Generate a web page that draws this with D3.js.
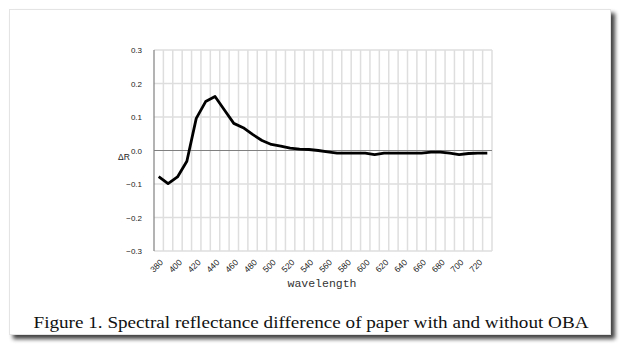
<!DOCTYPE html>
<html><head><meta charset="utf-8">
<script src="https://cdn.jsdelivr.net/npm/d3@7"></script>
<style>html,body{margin:0;padding:0;background:#fff;}svg{display:block;}</style>
</head><body>
<svg id="c" width="624" height="345"></svg>
<script>
const wavelengths = [380,390,400,410,420,430,440,450,460,470,480,490,500,510,520,530,540,550,560,570,580,590,600,610,620,630,640,650,660,670,680,690,700,710,720,730];
const deltaR = [-0.078,-0.099,-0.079,-0.032,0.096,0.146,0.161,0.121,0.081,0.068,0.048,0.030,0.018,0.013,0.007,0.004,0.003,0.000,-0.004,-0.008,-0.008,-0.008,-0.008,-0.012,-0.008,-0.008,-0.008,-0.008,-0.008,-0.005,-0.005,-0.008,-0.012,-0.009,-0.008,-0.008];
const yTicks = [-0.3,-0.2,-0.1,0.0,0.1,0.2,0.3];
const xLabels = [380,400,420,440,460,480,500,520,540,560,580,600,620,640,660,680,700,720];
const caption = "Figure 1. Spectral reflectance difference of paper with and without OBA";

const svg = d3.select("#c");
const defs = svg.append("defs");
const f = defs.append("filter").attr("id","sh").attr("x","-5%").attr("y","-5%").attr("width","115%").attr("height","115%");
f.append("feGaussianBlur").attr("in","SourceAlpha").attr("stdDeviation",2);
f.append("feOffset").attr("dx",4).attr("dy",4).attr("result","b");
f.append("feComponentTransfer").append("feFuncA").attr("type","linear").attr("slope",0.75);
const fm = f.append("feMerge"); fm.append("feMergeNode"); fm.append("feMergeNode").attr("in","SourceGraphic");

svg.append("rect").attr("x",9.5).attr("y",9.5).attr("width",601).attr("height",325)
  .attr("fill","#fff").attr("stroke","#e4e4e4").attr("stroke-width",1).attr("filter","url(#sh)");

const L = 154, R = 492, T = 50, B = 251;
const x = d3.scaleBand().domain(wavelengths).range([L,R]).padding(0);
const y = d3.scaleLinear().domain([-0.3,0.3]).range([B,T]);

const g = svg.append("g");
g.selectAll("line.vg").data(wavelengths).enter().append("line")
  .attr("x1",d=>x(d)+x.bandwidth()).attr("x2",d=>x(d)+x.bandwidth())
  .attr("y1",T).attr("y2",B).attr("stroke","#dedede").attr("stroke-width",1.5);
g.selectAll("line.hg").data(yTicks.filter(v=>v!==0)).enter().append("line")
  .attr("x1",L).attr("x2",R).attr("y1",d=>y(d)).attr("y2",d=>y(d))
  .attr("stroke","#dedede").attr("stroke-width",1.5);
g.append("line").attr("x1",L).attr("x2",R).attr("y1",y(0)).attr("y2",y(0)).attr("stroke","#808080").attr("stroke-width",1);
g.append("line").attr("x1",L).attr("x2",L).attr("y1",T).attr("y2",B).attr("stroke","#808080").attr("stroke-width",1.2);

const yAxis = d3.axisLeft(y).tickValues(yTicks).tickFormat(d3.format(".1f")).tickSize(0).tickPadding(12);
const ya = svg.append("g").attr("transform",`translate(${L},0)`).call(yAxis);
ya.select(".domain").remove();
ya.selectAll("text").attr("font-family","Liberation Sans, Arial, sans-serif").attr("font-size",8).attr("fill","#222");

svg.append("text").attr("x",118).attr("y",y(0)+9).attr("font-family","Liberation Sans, Arial, sans-serif")
  .attr("font-size",8.5).attr("fill","#222").text("ΔR");

const xa = d3.axisBottom(x).tickValues(xLabels).tickSize(0).tickPadding(0);
const xg = svg.append("g").attr("transform",`translate(0,${B})`).call(xa);
xg.select(".domain").remove();
xg.selectAll("text").attr("font-family","Liberation Sans, Arial, sans-serif").attr("font-size",8.5).attr("fill","#222")
  .attr("text-anchor","end").attr("dy",0).attr("y",0)
  .attr("transform","translate(5,12) rotate(-45)");

svg.append("text").attr("x",322).attr("y",287).attr("text-anchor","middle")
  .attr("font-family","Liberation Mono, monospace").attr("font-size",11.5).attr("fill","#333").text("wavelength");

const line = d3.line().x((d,i)=>x(wavelengths[i])+x.bandwidth()/2).y(d=>y(d));
svg.append("path").datum(deltaR).attr("d",line).attr("fill","none").attr("stroke","#000")
  .attr("stroke-width",2.8).attr("stroke-linejoin","round");

svg.append("text").attr("x",311).attr("y",328).attr("text-anchor","middle")
  .attr("font-family","Liberation Serif, serif").attr("font-size",17.5).attr("fill","#111")
  .attr("textLength",555).attr("lengthAdjust","spacingAndGlyphs").text(caption);
</script>
</body></html>
